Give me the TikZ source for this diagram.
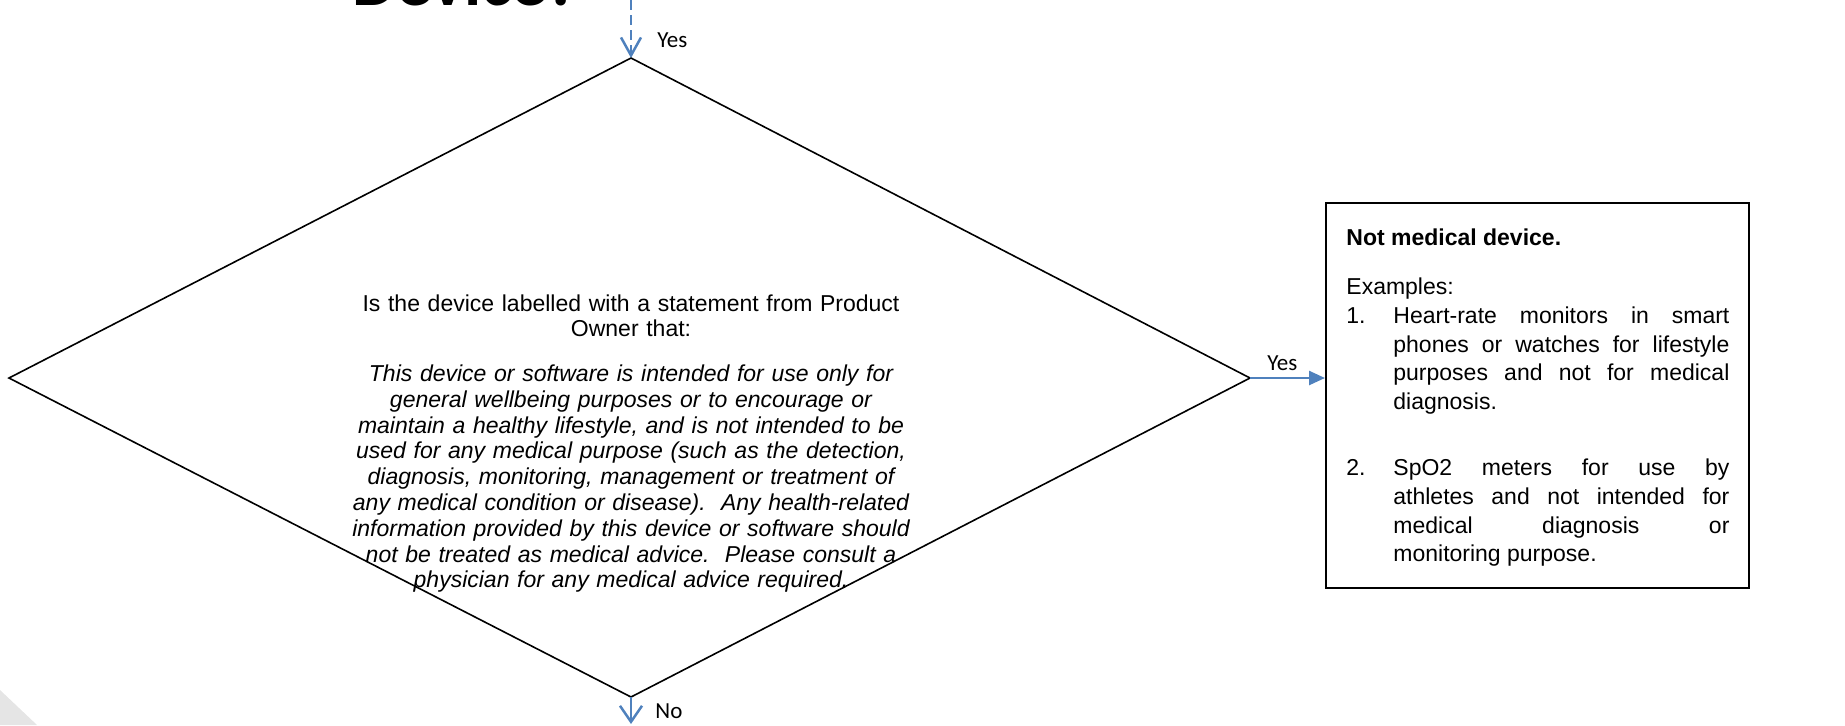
\documentclass[tikz,border=0pt]{standalone}
\usepackage{fontspec}
\setmainfont{Liberation Sans}
\newfontfamily\calibri{Carlito}
\usetikzlibrary{arrows.meta}
\definecolor{flowblue}{HTML}{4F81BD}

\begin{document}
\begin{tikzpicture}[x=0.5pt,y=-0.5pt,
            decision/.style={draw=black,line width=0.8pt},
            flowarrow/.style={draw=flowblue,line width=1.25pt},
            answer/.style={anchor=base west,inner sep=0pt,font=\calibri\fontsize{11.5}{13}\selectfont},
            boxtext/.style={anchor=base west,inner sep=0pt,text width=191.5pt,align=justify,font=\fontsize{11.5}{14.4}\selectfont}]
            \useasboundingbox (0,0) rectangle (1845,725);
            \clip (0,0) rectangle (1845,725);

            % slide corner and cut-off heading
            \fill[black!10] (0,690) -- (37,725) -- (0,725) -- cycle;
            \node[anchor=base west,inner sep=0pt,font=\calibri\bfseries\fontsize{35}{40}\selectfont] (heading) at (352,5) {Device?};

            % the decision
            \coordinate (dtop) at (631,58);
            \coordinate (dright) at (1250,378);
            \coordinate (dbottom) at (631,697);
            \coordinate (dleft) at (9,378);
            \draw[decision] (dtop) -- (dright) -- (dbottom) -- (dleft) -- cycle;
            \node[anchor=base,inner sep=0pt,text width=320pt,align=center,font=\fontsize{11.5}{12.9}\selectfont] (question) at (631,311)
                {Is the device labelled with a statement from Product\\ Owner that:\\[9.4pt]
                \itshape This device or software is intended for use only for\\ general wellbeing purposes or to encourage or\\ maintain a healthy lifestyle, and is not intended to be\\ used for any medical purpose (such as the detection,\\ diagnosis, monitoring, management or treatment of\\ any medical condition or disease).\ \ Any health-related\\ information provided by this device or software should\\ not be treated as medical advice.\ \ Please consult a\\ physician for any medical advice required.};

            % the outcome
            \node[draw,line width=1pt,minimum width=211.5pt,minimum height=192.5pt,inner sep=0pt] (outcome) at (1537.5,395.5) {};
            \node[boxtext] (outcometext) at (1346,245)
                {\textbf{Not medical device.}\par
                \vspace{10.3pt}
                Examples:\par
                \hangindent=23.5pt\hangafter=1\noindent\makebox[23.5pt][l]{1.}Heart-rate monitors in smart\linebreak phones or watches for lifestyle\linebreak purposes and not for medical\linebreak diagnosis.\par
                \vspace{18.5pt}
                \hangindent=23.5pt\hangafter=1\noindent\makebox[23.5pt][l]{2.}SpO2 meters for use by\linebreak athletes and not intended for\linebreak medical diagnosis or\linebreak monitoring purpose.\par};

            % connectors
            \coordinate (entry) at (631,0);
            \coordinate (exit) at (631,724);
            \draw[flowarrow,dash pattern=on 5pt off 2.5pt,-{Straight Barb[length=9pt,width=10pt]}] (entry) -- (dtop);
            \draw[flowarrow,-{Triangle[length=8pt,width=7pt]}] (dright) -- (dright -| outcome.west);
            \draw[flowarrow,-{Straight Barb[length=8pt,width=11pt]}] (dbottom) -- (exit);
            \node[answer] (yestop) at (657,47) {Yes};
            \node[answer] (yesright) at (1267,370) {Yes};
            \node[answer] (nobottom) at (655,718) {No};
\end{tikzpicture}
\end{document}
